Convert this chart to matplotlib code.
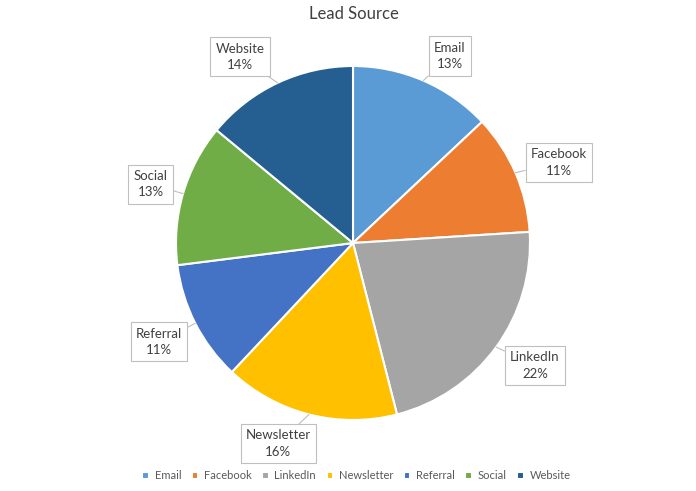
import matplotlib.pyplot as plt
import numpy as np

plt.rcParams['font.family'] = ['Lato', 'DejaVu Sans']

sources = ["Email", "Facebook", "LinkedIn", "Newsletter", "Referral", "Social", "Website"]
shares = [13, 11, 22, 16, 11, 13, 14]
colors = ["#5B9BD5", "#ED7D31", "#A5A5A5", "#FFC000", "#4472C4", "#70AD47", "#255E91"]
label_dist = [1.19, 1.25, 1.24, 1.21, 1.23, 1.19, 1.23]
label_shift = [-4, -2, 2, -6, 0, 0, 6]

W, H = 696, 491
fig = plt.figure(figsize=(W / 100, H / 100), dpi=100)
ax = fig.add_axes([0, 0, 1, 1])

cx, cy, r = 353, 491 - 243, 177
wedges, _ = ax.pie(shares, colors=colors, startangle=90, counterclock=False,
                   center=(cx, cy), radius=r, frame=True,
                   wedgeprops=dict(edgecolor='white', linewidth=1.5))
ax.set_xlim(0, W)
ax.set_ylim(0, H)
ax.set_aspect('equal')
ax.axis('off')

for w, name, val, d, s in zip(wedges, sources, shares, label_dist, label_shift):
    ang = np.deg2rad((w.theta1 + w.theta2) / 2 + s)
    mid = np.deg2rad((w.theta1 + w.theta2) / 2)
    tx = cx + d * r * np.cos(ang)
    ty = cy + d * r * np.sin(ang)
    px = cx + r * np.cos(mid)
    py = cy + r * np.sin(mid)
    ax.annotate(f"{name}\n{val}%", xy=(px, py), xytext=(tx, ty),
                ha='center', va='center', fontsize=9.5, color='#404040',
                linespacing=1.45,
                bbox=dict(boxstyle='square,pad=0.4', fc='white', ec='#BFBFBF', lw=0.8),
                arrowprops=dict(arrowstyle='-', color='#BFBFBF', lw=0.8,
                                shrinkA=0, shrinkB=0))

ax.set_title("Lead Source", fontsize=12, color='#404040', x=0.508, y=0.945)

leg = ax.legend(wedges, sources, loc='lower center', bbox_to_anchor=(0.512, 0.0),
                ncol=7, frameon=False, fontsize=8, handlelength=0.6, handleheight=0.6,
                handletextpad=0.5, columnspacing=0.95, labelcolor='#595959')

fig.savefig("out.png", dpi=100)
